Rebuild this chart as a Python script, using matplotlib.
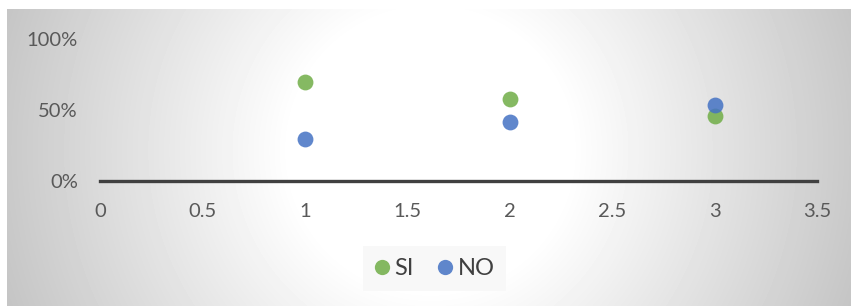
import numpy as np
import matplotlib
matplotlib.use("Agg")
import matplotlib.pyplot as plt
from matplotlib.lines import Line2D

# data
x_vals = [1, 2, 3]
si_vals = [0.70, 0.58, 0.46]
no_vals = [0.30, 0.42, 0.54]
x_ticks = [0, 0.5, 1, 1.5, 2, 2.5, 3, 3.5]
y_ticks = [0, 0.5, 1.0]
y_labels = ["0%", "50%", "100%"]

W, H = 851, 306
plt.rcParams["font.family"] = ["Lato", "DejaVu Sans"]
fig = plt.figure(figsize=(W / 100, H / 100), dpi=100)

# radial gradient background panel
bg = fig.add_axes([7 / W, 0, 1 - 7 / W, (H - 9) / H])
bw, bh = W - 7, H - 9
yy, xx = np.mgrid[0:bh, 0:bw]
r = np.hypot(xx + 7 - 430, yy + 9 - 150)
v = 1 - 0.23 * np.clip((r - 140) / 310, 0, 1)
bg.imshow(v, cmap="gray", vmin=0, vmax=1, aspect="auto", interpolation="bilinear")
bg.set_axis_off()

ax = fig.add_axes([100 / W, (H - 181) / H, 717 / W, 141.5 / H])
ax.patch.set_alpha(0)
ax.scatter(x_vals, si_vals, s=130, color="#70AD47", alpha=0.85, lw=0, zorder=3)
ax.scatter(x_vals, no_vals, s=130, color="#4472C4", alpha=0.85, lw=0, zorder=4)
ax.set_xlim(0, 3.5)
ax.set_ylim(0, 1)
ax.set_xticks(x_ticks)
ax.set_xticklabels([f"{t:g}" for t in x_ticks])
ax.set_yticks(y_ticks)
ax.set_yticklabels(y_labels)
for s in ["top", "right", "left"]:
    ax.spines[s].set_visible(False)
ax.spines["bottom"].set_color("#404040")
ax.spines["bottom"].set_linewidth(2.4)
ax.tick_params(axis="x", length=0, pad=16, labelsize=14.5, labelcolor="#595959")
ax.tick_params(axis="y", length=0, pad=16, labelsize=14.5, labelcolor="#595959")

handles = [Line2D([], [], ls="", marker="o", ms=11, color="#70AD47", alpha=0.85, mew=0),
           Line2D([], [], ls="", marker="o", ms=11, color="#4472C4", alpha=0.85, mew=0)]
leg = fig.legend(handles, ["SI", "NO"], loc="center", bbox_to_anchor=(434.5 / W, 1 - 268.5 / H),
                 ncol=2, frameon=True, fancybox=False, fontsize=17, handlelength=0.6,
                 handletextpad=0.25, columnspacing=1.0, borderpad=0.5)
leg.get_frame().set_facecolor("#f8f8f8")
leg.get_frame().set_edgecolor("none")
leg.get_frame().set_alpha(1)
for t in leg.get_texts():
    t.set_color("#404040")

fig.savefig("out.png", dpi=100)
